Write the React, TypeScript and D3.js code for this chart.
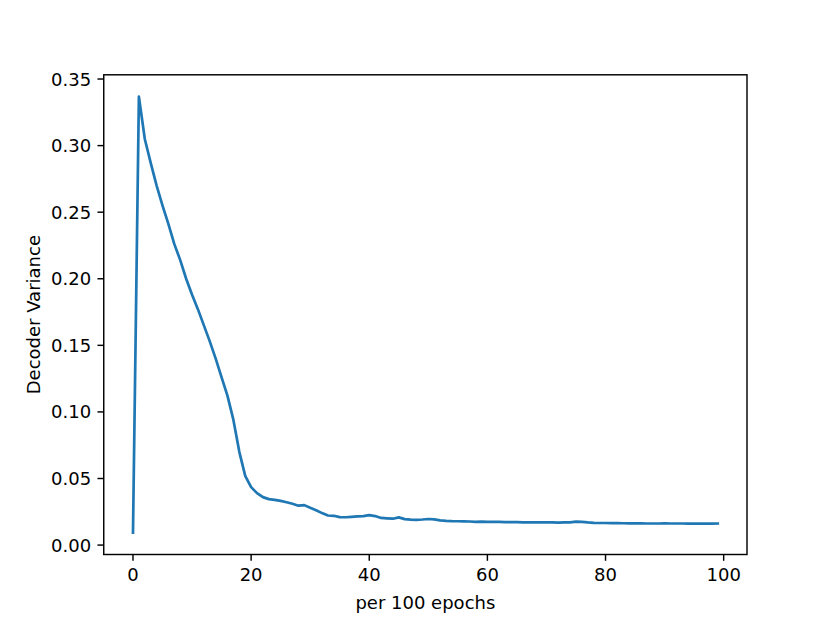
import React from "react";
import * as d3 from "d3";

const epochs: number[] = Array.from({ length: 100 }, (_, i) => i);
const variance: number[] = [
  0.0093, 0.3368, 0.305, 0.287, 0.27, 0.255, 0.241, 0.226, 0.214, 0.2,
  0.188, 0.177, 0.165, 0.153, 0.14, 0.126, 0.112, 0.094, 0.07, 0.052,
  0.0435, 0.039, 0.036, 0.0345, 0.034, 0.0332, 0.0322, 0.031, 0.0296, 0.03,
  0.028, 0.0262, 0.024, 0.0222, 0.022, 0.021, 0.0209, 0.0212, 0.0215, 0.0218,
  0.0225, 0.0218, 0.0204, 0.0201, 0.0198, 0.0208, 0.0195, 0.0191, 0.019, 0.0192,
  0.0196, 0.0193, 0.0185, 0.0182, 0.018, 0.0179, 0.0178, 0.0177, 0.0175, 0.0176,
  0.0174, 0.0174, 0.0175, 0.0173, 0.0172, 0.0172, 0.0171, 0.0171, 0.017, 0.017,
  0.0171, 0.017, 0.0169, 0.017, 0.0171, 0.0176, 0.0174, 0.017, 0.0167, 0.0166,
  0.0166, 0.0165, 0.0165, 0.0164, 0.0163, 0.0163, 0.0163, 0.0162, 0.0162, 0.0162,
  0.0163, 0.0162, 0.0162, 0.0162, 0.0161, 0.0161, 0.0161, 0.0162, 0.0161, 0.0162,
];
const xTicks: number[] = [0, 20, 40, 60, 80, 100];
const yTicks: number[] = [0, 0.05, 0.1, 0.15, 0.2, 0.25, 0.3, 0.35];
const xLabel = "per 100 epochs";
const yLabel = "Decoder Variance";

const W = 830;
const H = 623;
const left = 103.75;
const right = 747;
const top = 74.8;
const bottom = 554.5;
const font = "DejaVu Sans";
const fs = 18;
const tickLen = 6.3;
const pad = 6.3;

export default function App() {
  const [x0, x1] = d3.extent(epochs) as [number, number];
  const xm = (x1 - x0) * 0.05;
  const [y0, y1] = d3.extent(variance) as [number, number];
  const ym = (y1 - y0) * 0.05;
  const x = d3.scaleLinear().domain([x0 - xm, x1 + xm]).range([left, right]);
  const y = d3.scaleLinear().domain([y0 - ym, y1 + ym]).range([bottom, top]);
  const line = d3
    .line<number>()
    .x((_, i) => x(epochs[i]))
    .y((d) => y(d));

  return (
    <svg
      width={W}
      height={H}
      style={{ position: "absolute", left: 0, top: 0, background: "#fff" }}
      fontFamily={font}
    >
      <rect x={0} y={0} width={W} height={H} fill="#fff" />
      <path
        d={line(variance) || ""}
        fill="none"
        stroke="#1f77b4"
        strokeWidth={2.7}
        strokeLinejoin="round"
        strokeLinecap="square"
      />
      <rect
        x={left}
        y={top}
        width={right - left}
        height={bottom - top}
        fill="none"
        stroke="#000"
        strokeWidth={1.44}
      />
      {xTicks.map((t) => (
        <g key={"x" + t}>
          <line x1={x(t)} x2={x(t)} y1={bottom} y2={bottom + tickLen} stroke="#000" strokeWidth={1.44} />
          <text x={x(t)} y={bottom + tickLen + pad + 14} textAnchor="middle" fontSize={fs} fill="#000">
            {t}
          </text>
        </g>
      ))}
      {yTicks.map((t) => (
        <g key={"y" + t}>
          <line x1={left - tickLen} x2={left} y1={y(t)} y2={y(t)} stroke="#000" strokeWidth={1.44} />
          <text x={left - tickLen - pad} y={y(t) + 6.5} textAnchor="end" fontSize={fs} fill="#000">
            {d3.format(".2f")(t)}
          </text>
        </g>
      ))}
      <text x={(left + right) / 2} y={609} textAnchor="middle" fontSize={fs} fill="#000">
        {xLabel}
      </text>
      <text
        transform={`translate(40,${(top + bottom) / 2}) rotate(-90)`}
        textAnchor="middle"
        fontSize={fs}
        fill="#000"
      >
        {yLabel}
      </text>
    </svg>
  );
}
